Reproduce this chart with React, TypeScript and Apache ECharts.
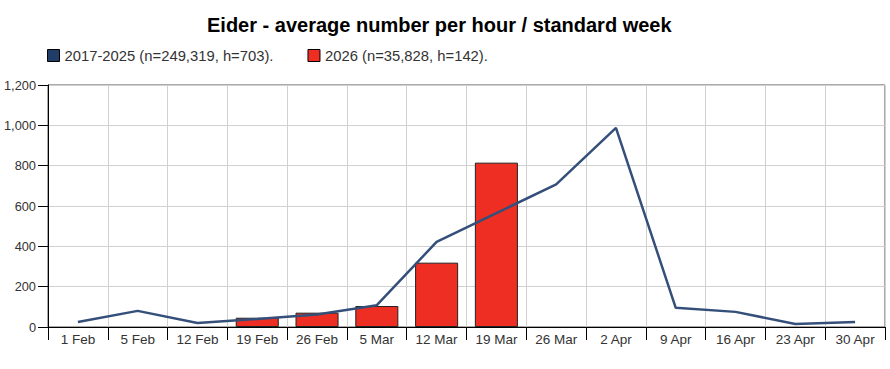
import React, { useEffect, useRef } from "react";
import * as echarts from "echarts";

const categories = ["1 Feb", "5 Feb", "12 Feb", "19 Feb", "26 Feb", "5 Mar", "12 Mar", "19 Mar", "26 Mar", "2 Apr", "9 Apr", "16 Apr", "23 Apr", "30 Apr"];
const series2017 = [25, 80, 20, 40, 62, 108, 422, 565, 707, 987, 95, 75, 15, 25];
const series2026: (number | null)[] = [null, null, null, 46, 71, 104, 319, 815, null, null, null, null, null, null];
const yTicks = { min: 0, max: 1200, interval: 200 };
const legendNames = ["2017-2025 (n=249,319, h=703).", "2026 (n=35,828, h=142)."];

export default function App() {
  const ref = useRef<HTMLDivElement>(null);
  useEffect(() => {
    if (!ref.current) return;
    const chart = echarts.init(ref.current, null, { renderer: "svg" });
    const font = "'Liberation Sans', Arial, sans-serif";
    chart.setOption({
      animation: false,
      textStyle: { fontFamily: font },
      title: {
        text: "Eider - average number per hour / standard week",
        left: 207,
        top: 15,
        padding: 0,
        textStyle: { fontSize: 20, fontWeight: "bold", color: "#000", fontFamily: font },
      },
      legend: {
        left: 42,
        top: 43,
        itemWidth: 12,
        itemHeight: 12,
        itemGap: 34,
        textStyle: { fontSize: 14.8, color: "#333", fontFamily: font },
        data: [
          { name: legendNames[0], icon: "rect", itemStyle: { color: "#1f3d66", borderColor: "#000", borderWidth: 1 } },
          { name: legendNames[1], icon: "rect", itemStyle: { color: "#ee2e22", borderColor: "#000", borderWidth: 1 } },
        ],
      },
      grid: { left: 48, right: 5, top: 85, bottom: 42, containLabel: false, show: true, borderColor: "#555", borderWidth: 1, backgroundColor: "transparent" },
      xAxis: {
        type: "category",
        data: categories,
        boundaryGap: true,
        axisLine: { show: true, lineStyle: { color: "#000", width: 1 } },
        axisTick: { show: true, alignWithLabel: false, length: 13, lineStyle: { color: "#000" } },
        axisLabel: { fontSize: 13.5, color: "#333", margin: 5, interval: 0, fontFamily: font },
        splitLine: { show: true, lineStyle: { color: "#d0d0d0", width: 1 } },
      },
      yAxis: {
        type: "value",
        min: yTicks.min,
        max: yTicks.max,
        interval: yTicks.interval,
        axisLine: { show: true, lineStyle: { color: "#000", width: 1 } },
        axisTick: { show: true, length: 10, lineStyle: { color: "#000" } },
        axisLabel: {
          fontSize: 12.8,
          color: "#333",
          margin: 12,
          fontFamily: font,
          formatter: (v: number) => v.toLocaleString("en-US"),
        },
        splitLine: { show: true, lineStyle: { color: "#d0d0d0", width: 1 } },
      },
      series: [
        {
          name: legendNames[1],
          type: "bar",
          data: series2026,
          barWidth: "72%",
          itemStyle: { color: "#ee2e22", borderColor: "#222", borderWidth: 1 },
          z: 2,
        },
        {
          name: legendNames[0],
          type: "line",
          data: series2017,
          showSymbol: false,
          symbol: "none",
          lineStyle: { color: "#34507a", width: 2.5 },
          itemStyle: { color: "#1f3d66" },
          z: 3,
        },
      ],
    });
    return () => chart.dispose();
  }, []);
  return <div ref={ref} style={{ width: 890, height: 369, position: "absolute", left: 0, top: 0 }} />;
}
